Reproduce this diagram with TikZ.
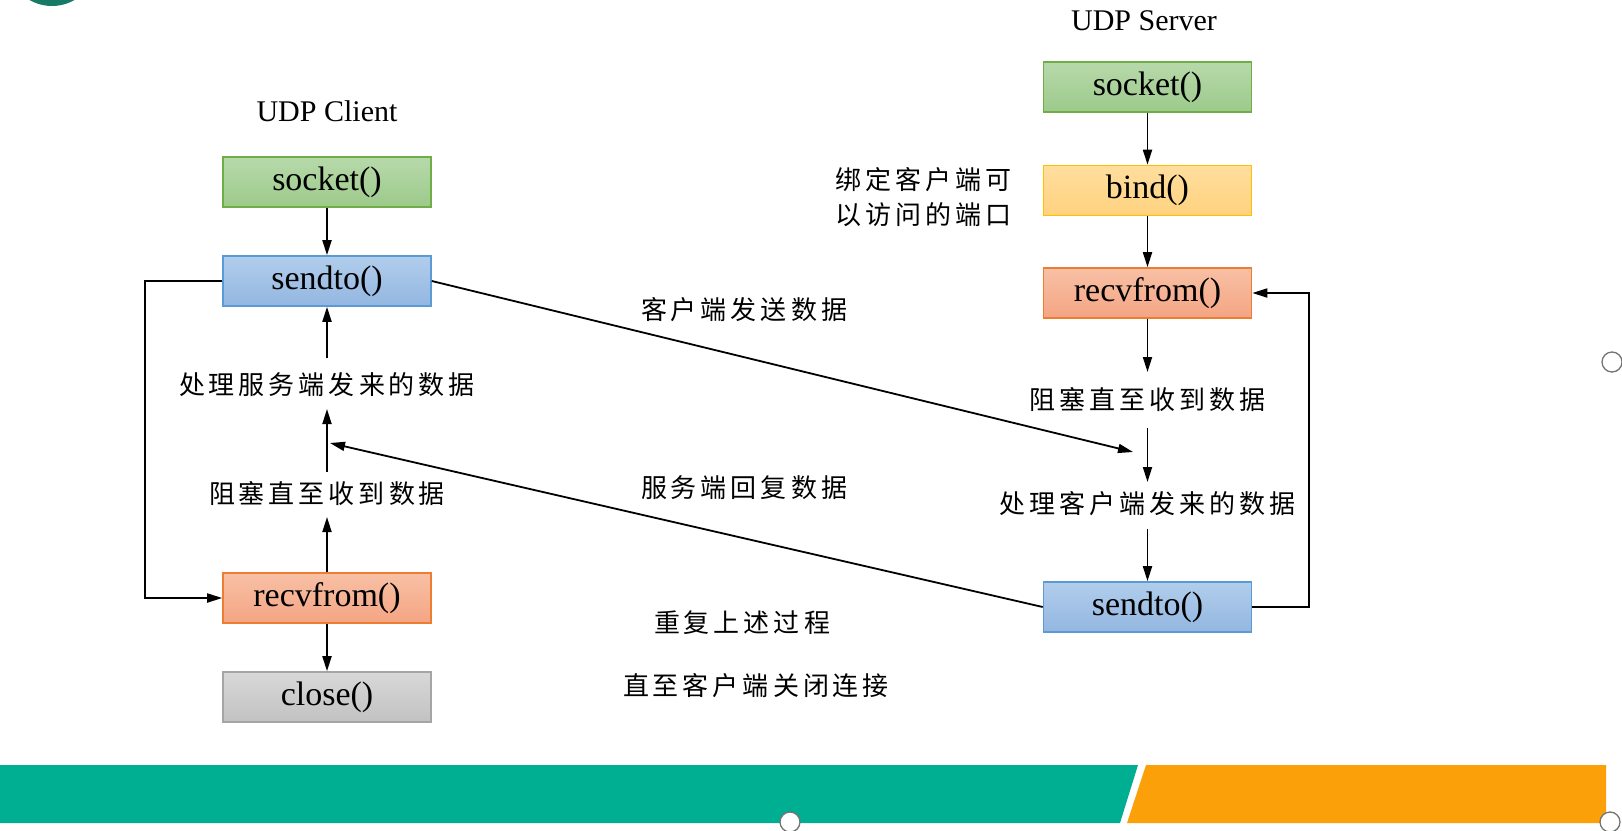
\documentclass[tikz,border=0pt]{standalone}
\usepackage{fontspec}
\setmainfont{Liberation Serif}
\newfontfamily\cjk{Noto Sans CJK SC}
\usetikzlibrary{arrows.meta,calc}
\makeatletter
\newcommand\cjksp[1]{{\cjk\fontsize{26}{30}\selectfont\@tfor\x@ch:=#1\do{\x@ch\kern4pt}\unkern}}
\makeatother
\definecolor{teal}{HTML}{00AE92}
\definecolor{barorange}{HTML}{FCA00A}
\definecolor{logo}{HTML}{177A66}
\tikzset{
  box/.style={draw, line width=1.6pt, minimum width=208pt, minimum height=50pt, inner sep=0pt,
    font=\fontsize{34}{40}\selectfont},
  greenbox/.style={box, draw=HTMLg, top color=greenT, bottom color=greenB},
  bluebox/.style={box, draw=blueD, top color=blueT, bottom color=blueB},
  yellowbox/.style={box, draw=yelD, top color=yelT, bottom color=yelB},
  salmonbox/.style={box, draw=salD, top color=salT, bottom color=salB},
  greybox/.style={box, draw=greyD, top color=greyT, bottom color=greyB},
  arr/.style={line width=1.8pt, -{Triangle[length=15pt,width=9pt]}},
  lbl/.style={inner sep=0pt},
  title/.style={inner sep=0pt, font=\fontsize{30}{34}\selectfont},
  handle/.style={draw=black!55, fill=white, line width=1.3pt}
}
\definecolor{HTMLg}{HTML}{70AD47}
\definecolor{greenT}{HTML}{B7D9AA}
\definecolor{greenB}{HTML}{9DCA8B}
\definecolor{blueD}{HTML}{5B9BD5}
\definecolor{blueT}{HTML}{B1CDEB}
\definecolor{blueB}{HTML}{93B7E1}
\definecolor{yelD}{HTML}{FFC000}
\definecolor{yelT}{HTML}{FFDE9E}
\definecolor{yelB}{HTML}{FFD27F}
\definecolor{salD}{HTML}{ED7D31}
\definecolor{salT}{HTML}{F8C0A5}
\definecolor{salB}{HTML}{F4A583}
\definecolor{greyD}{HTML}{A5A5A5}
\definecolor{greyT}{HTML}{D8D8D8}
\definecolor{greyB}{HTML}{C2C2C2}
\begin{document}
\begin{tikzpicture}[x=1pt,y=-1pt]
\useasboundingbox (0,0) rectangle (1622,830);
\fill[white] (0,0) rectangle (1622,830);
% logo fragment
\begin{scope}
\clip (0,0) rectangle (1622,830);
\fill[logo] (52,-39) circle (45);
% bottom bar
\fill[teal] (0,765) -- (1138,765) -- (1120,823) -- (0,823) -- cycle;
\fill[barorange] (1146,765) -- (1606,765) -- (1606,823) -- (1127,823) -- cycle;
\draw[handle] (790,822) circle (10);
\draw[handle] (1610,822) circle (10);
\draw[handle] (1612,362) circle (10);
\end{scope}

% titles
\node[title] (tc) at (327,111) {UDP Client};
\node[title] (ts) at (1144,21) {UDP Server};

% client boxes
\node[greenbox] (csock) at (327,182) {socket()};
\node[bluebox] (csend) at (327,281) {sendto()};
\node[salmonbox] (crecv) at (327,598) {recvfrom()};
\node[greybox] (cclose) at (327,697) {close()};

% server boxes
\node[greenbox] (ssock) at (1147.5,87) {socket()};
\node[yellowbox] (sbind) at (1147.5,190.5) {bind()};
\node[salmonbox] (srecv) at (1147.5,293) {recvfrom()};
\node[bluebox] (ssend) at (1147.5,607) {sendto()};

% labels
\node[lbl,anchor=west] (bind1) at (835,180) {\cjksp{绑定客户端可}};
\node[lbl,anchor=west] (bind2) at (835,215) {\cjksp{以访问的端口}};
\node[lbl] (sblock) at (1147.5,400) {\cjksp{阻塞直至收到数据}};
\node[lbl] (sproc) at (1147.5,504) {\cjksp{处理客户端发来的数据}};
\node[lbl] (cproc) at (327,385) {\cjksp{处理服务端发来的数据}};
\node[lbl] (cblock) at (327,494) {\cjksp{阻塞直至收到数据}};
\node[lbl] (msend) at (744,310) {\cjksp{客户端发送数据}};
\node[lbl] (mreply) at (744,488) {\cjksp{服务端回复数据}};
\node[lbl] (mrep) at (742,623) {\cjksp{重复上述过程}};
\node[lbl] (mclose) at (756,686) {\cjksp{直至客户端关闭连接}};

% client arrows
\coordinate (c1) at (327,358);
\coordinate (c2a) at (327,472);
\coordinate (c2b) at (327,409);
\coordinate (c3) at (327,517);
\draw[arr] (csock) -- (csend);
\draw[arr] (c1) -- (csend.south);
\draw[arr] (c2a) -- (c2b);
\draw[arr] (crecv.north) -- (c3);
\draw[arr] (crecv) -- (cclose);
\draw[arr] (csend.west) -- ++(-77,0) |- (crecv.west);

% server arrows
\coordinate (s1) at (1147.5,372);
\coordinate (s2a) at (1147.5,428);
\coordinate (s2b) at (1147.5,482);
\coordinate (s3) at (1147.5,529);
\draw[arr] (ssock) -- (sbind);
\draw[arr] (sbind) -- (srecv);
\draw[arr] (srecv.south) -- (s1);
\draw[arr] (s2a) -- (s2b);
\draw[arr] (s3) -- (ssend.north);
\draw[arr] (ssend.east) -- ++(57,0) |- (srecv.east);

% cross arrows
\coordinate (x1) at (1133,452);
\coordinate (x2) at (330,443);
\draw[arr] (csend.east) -- (x1);
\draw[arr] (ssend.west) -- (x2);
\end{tikzpicture}
\end{document}
